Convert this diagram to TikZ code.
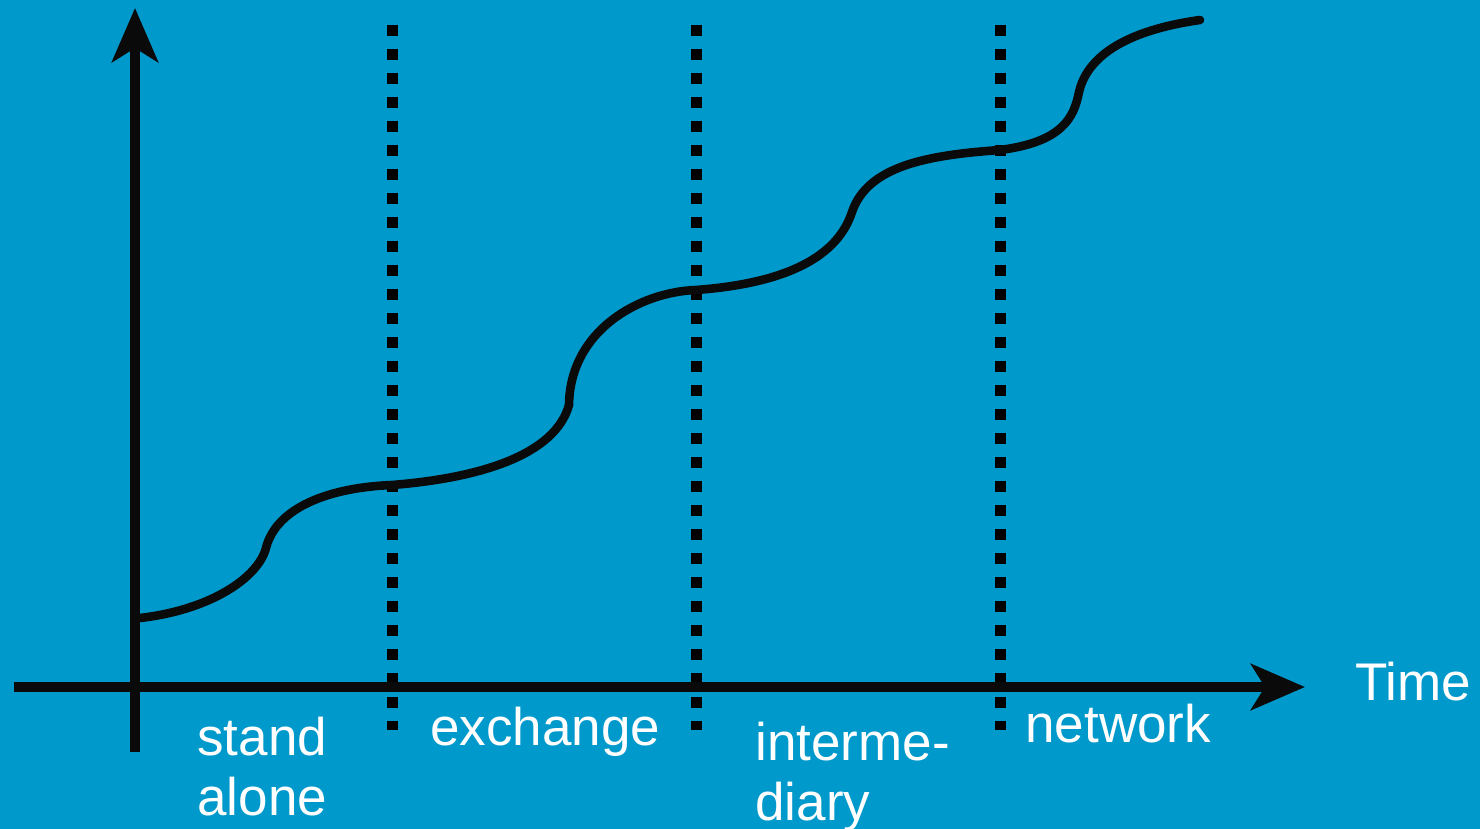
\documentclass[tikz,border=0pt]{standalone}
\usepackage{fontspec}
\setmainfont{Liberation Sans}
\usetikzlibrary{arrows.meta}
\definecolor{bg}{RGB}{0,153,204}
\definecolor{ink}{RGB}{10,10,10}
\begin{document}
\begin{tikzpicture}[x=0.5pt,y=-0.5pt,
  axis/.style={line width=4.8pt,draw=ink,-{Stealth[length=27pt,width=23pt,inset=7pt]}},
  divider/.style={line width=5.5pt,draw=black,dash pattern=on 5.5pt off 6.5pt},
  growth/.style={line width=4.3pt,draw=ink,line cap=round},
  lbl/.style={text=white,font=\fontsize{26.5}{30}\selectfont,inner sep=0pt,anchor=base west,align=left}]
\fill[bg] (0,0) rectangle (1480,829);
\useasboundingbox (0,0) rectangle (1480,829);
% coordinates
\coordinate (xs) at (14,687);
\coordinate (xe) at (1305,687);
\coordinate (ys) at (135,752);
\coordinate (ye) at (135,8);
\foreach \n/\x in {a/392,b/696,c/1000}{
  \coordinate (\n top) at (\x,25);
  \coordinate (\n bot) at (\x,730);
  \draw[divider] (\n top) -- (\n bot);
}
% growth curve
\draw[growth] (140,618) .. controls (210,610) and (258,578) .. (266,548)
  .. controls (275,512) and (320,488) .. (392,485)
  .. controls (480,478) and (555,455) .. (569,405)
  .. controls (570,330) and (640,292) .. (696,290)
  .. controls (790,283) and (838,255) .. (852,212)
  .. controls (868,165) and (930,155) .. (1000,150)
  .. controls (1062,142) and (1074,118) .. (1079,92)
  .. controls (1090,45) and (1150,27) .. (1200,20);
% axes
\draw[axis] (xs) -- (xe);
\draw[axis] (ys) -- (ye);
% labels
\node[lbl] (t1) at (197,815) {stand\\alone};
\node[lbl] (t2) at (430,745) {exchange};
\node[lbl] (t3) at (755,820) {interme-\\diary};
\node[lbl] (t4) at (1025,742) {network};
\node[lbl] (t5) at (1355,700) {Time};
\end{tikzpicture}
\end{document}
